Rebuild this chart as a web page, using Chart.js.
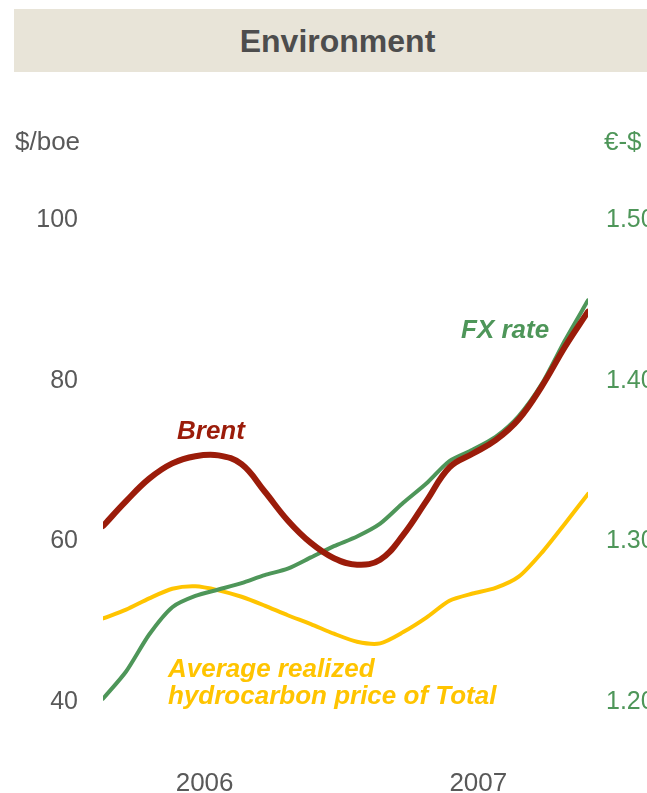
<!DOCTYPE html>
<html>
<head>
<meta charset="utf-8">
<script src="https://cdn.jsdelivr.net/npm/chart.js@4.4.1/dist/chart.umd.min.js"></script>
<style>
  body { margin: 0; background: #fff; font-family: Arial, "Liberation Sans", sans-serif; }
  #wrap { position: relative; width: 647px; height: 793px; overflow: hidden; }
  #wrap canvas { position: absolute; left: 0; top: 0; }
  .bar {
    position: absolute; left: 14px; top: 9px; width: 633px; height: 63px;
    background: #e8e4d8; color: #4d4d4d; font-weight: bold; font-size: 32px;
    line-height: 65px; text-align: center; padding-left: 14px; box-sizing: border-box;
  }
  .lbl { position: absolute; font-size: 26px; line-height: 26px; white-space: nowrap; }
  .note { position: absolute; font-size: 26px; line-height: 27px; font-weight: bold; font-style: italic; white-space: nowrap; }
</style>
</head>
<body>
<div id="wrap">
  <canvas id="envChart"></canvas>
  <div class="bar">Environment</div>
  <div class="lbl" style="left:15px; top:128px; color:#595959;">$/boe</div>
  <div class="lbl" style="left:604px; top:128px; color:#4e9659;">€-$</div>
  <div class="note" style="left:177px; top:417px; color:#9b1c0a;">Brent</div>
  <div class="note" style="left:461px; top:316px; color:#4e9659;">FX rate</div>
  <div class="note" style="left:168px; top:655px; color:#ffc400;">Average realized<br>hydrocarbon price of Total</div>
</div>
<script>
(() => {
    const el = document.getElementById('envChart');
    if (!el || !window.Chart) return;

    // === DATA (bulanan, Feb 2006 - Nov 2007) ===
    const months = [2, 3, 4, 5, 6, 7, 8, 9, 10, 11, 12, 13, 14, 15, 16, 17, 18, 19, 20, 21, 22, 23];
    const brent = [61.9, 65.0, 67.8, 69.7, 70.6, 70.7, 69.6, 66.2, 62.6, 59.8, 57.9, 57.1,
                   57.7, 60.8, 65.0, 69.2, 70.9, 72.6, 75.2, 79.3, 84.2, 88.6];
    const fxRate = [1.202, 1.219, 1.242, 1.259, 1.266, 1.270, 1.274, 1.279, 1.283, 1.290, 1.297, 1.303,
                    1.311, 1.324, 1.336, 1.350, 1.357, 1.365, 1.378, 1.398, 1.425, 1.450];
    const realized = [50.4, 51.5, 52.9, 54.1, 54.4, 53.9, 53.1, 52.0, 50.8, 49.7, 48.5, 47.5,
                      47.3, 48.7, 50.5, 52.6, 53.5, 54.2, 55.6, 58.6, 62.2, 65.9];
    const yearTicks = [6.4, 18.25];
    const yearLabels = ['2006', '2007'];

    const RED = '#9b1c0a';
    const GREEN = '#4e9659';
    const YELLOW = '#ffc400';
    const GREY = '#595959';

    const pts = (arr) => arr.map((v, i) => ({ x: months[i], y: v }));

    Chart.defaults.font.family = 'Arial, "Liberation Sans", sans-serif';

    new Chart(el.getContext('2d'), {
        type: 'line',
        data: {
            datasets: [{
                label: 'Brent',
                data: pts(brent),
                yAxisID: 'y',
                borderColor: RED,
                borderWidth: 6,
                tension: 0.4,
                order: 1
            }, {
                label: 'FX rate',
                data: pts(fxRate),
                yAxisID: 'y1',
                borderColor: GREEN,
                borderWidth: 4,
                tension: 0.25,
                order: 2
            }, {
                label: 'Average realized hydrocarbon price of Total',
                data: pts(realized),
                yAxisID: 'y',
                borderColor: YELLOW,
                borderWidth: 4,
                tension: 0.25,
                order: 3
            }]
        },
        options: {
            responsive: true,
            maintainAspectRatio: false,
            animation: false,
            layout: { padding: { top: 220, left: 0, right: 0, bottom: 0 } },
            elements: { point: { radius: 0 }, line: { borderCapStyle: 'round', borderJoinStyle: 'round' } },
            plugins: { legend: { display: false }, tooltip: { enabled: false } },
            scales: {
                x: {
                    type: 'linear',
                    min: 2,
                    max: 23,
                    grid: { display: false, drawTicks: false },
                    border: { display: false },
                    afterBuildTicks: (s) => { s.ticks = yearTicks.map(v => ({ value: v })); },
                    afterFit: (s) => { s.height = 91; },
                    ticks: {
                        padding: 66,
                        color: GREY,
                        font: { size: 26 },
                        maxRotation: 0,
                        callback: (v) => yearLabels[yearTicks.indexOf(v)] ?? ''
                    }
                },
                y: {
                    position: 'left',
                    min: 40,
                    max: 100,
                    grid: { display: false, drawTicks: false },
                    border: { display: false },
                    afterFit: (s) => { s.width = 103; },
                    ticks: { stepSize: 20, padding: 25, color: GREY, font: { size: 25 } }
                },
                y1: {
                    position: 'right',
                    min: 1.2,
                    max: 1.5,
                    grid: { display: false, drawTicks: false },
                    border: { display: false },
                    afterFit: (s) => { s.width = 59; },
                    ticks: {
                        stepSize: 0.1,
                        padding: 18,
                        color: GREEN,
                        font: { size: 25 },
                        callback: (v) => Number(v).toFixed(2)
                    }
                }
            }
        }
    });
})();
</script>
</body>
</html>
